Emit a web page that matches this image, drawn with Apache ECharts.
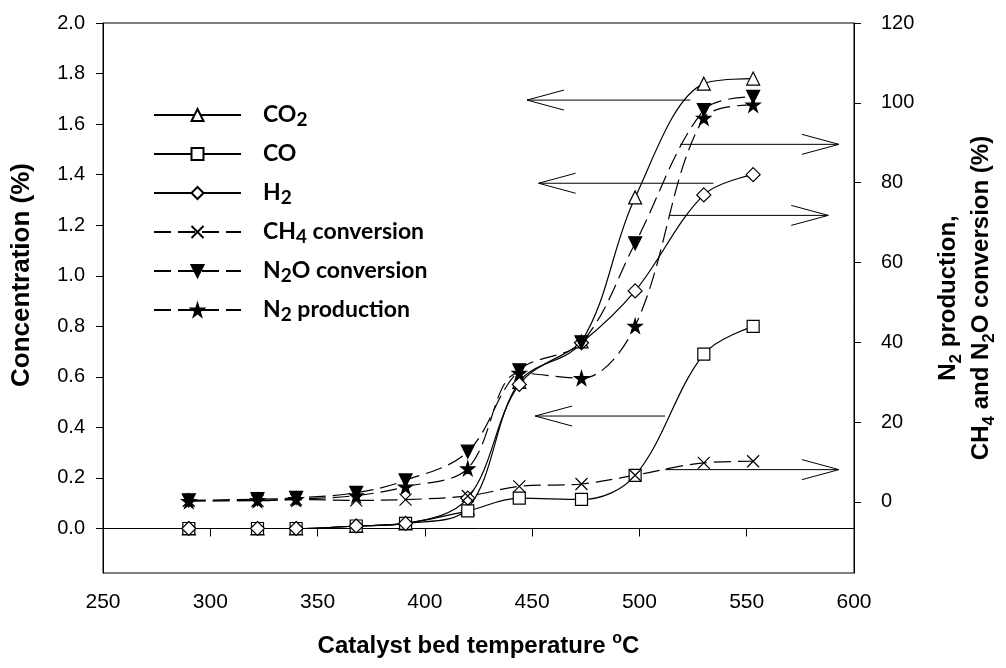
<!DOCTYPE html>
<html><head><meta charset="utf-8">
<script src="https://cdn.jsdelivr.net/npm/echarts@6/dist/echarts.min.js"></script>
<style>html,body{margin:0;padding:0;background:#fff}#c{width:1006px;height:668px}</style>
</head><body><div id="c"></div>
<script>
// ---- data ----
const temps    = [290, 322, 340, 368, 391, 420, 444, 473, 498, 530, 553];
const co2      = [0, 0, 0, 0.01, 0.02, 0.08, 0.58, 0.74, 1.31, 1.76, 1.78];
const co       = [0, 0, 0, 0.01, 0.02, 0.07, 0.12, 0.115, 0.21, 0.69, 0.80];
const h2       = [0, 0, 0, 0.01, 0.02, 0.12, 0.57, 0.735, 0.94, 1.32, 1.40];
const ch4Conv  = [0.3, 0.3, 0.6, 0.4, 0.6, 1.5, 3.9, 4.5, 6.7, 9.8, 10.2];
const n2oConv  = [0.4, 0.7, 1.0, 2.3, 5.4, 12.6, 33.0, 40.0, 64.8, 98.2, 101.5];
const n2Prod   = [0.2, 0.4, 0.7, 1.6, 3.8, 8.4, 32.3, 31.0, 44.1, 96.2, 99.5];
const leftTicks  = [0, 0.2, 0.4, 0.6, 0.8, 1.0, 1.2, 1.4, 1.6, 1.8, 2.0];
const rightTicks = [0, 20, 40, 60, 80, 100, 120];
// annotation arrows (data units): axis 0 = left, 1 = right; from tail to tip
const arrows = [
  {axis: 0, y: 1.695, from: 523.7, to: 447.6},
  {axis: 1, y: 89.6,  from: 519,   to: 593},
  {axis: 0, y: 1.366, from: 534.5, to: 453},
  {axis: 1, y: 71.8,  from: 513.7, to: 588},
  {axis: 0, y: 0.445, from: 512,   to: 451.4},
  {axis: 1, y: 8.1,   from: 512,   to: 593}
];

const STAR = 'path://M50,0 L61,35 L98,35 L68,57 L79,91 L50,70 L21,91 L32,57 L2,35 L39,35 Z';
const TDOWN = 'path://M0,0 L10,0 L5,9 Z';
const XMARK = 'path://M0,0 L10,10 M10,0 L0,10';

function mk(name, vals, yIdx, symbol, dashed, fill, size) {
  return {
    name: name, type: 'line', yAxisIndex: yIdx,
    data: temps.map((t, i) => [t, vals[i]]),
    smooth: 0.35,
    symbol: symbol, symbolSize: size || 13,
    showAllSymbol: true,
    lineStyle: {color: '#000', width: 1.2, type: dashed ? [17, 7] : 'solid'},
    itemStyle: {color: fill, borderColor: '#000', borderWidth: 1.2},
    emphasis: {disabled: true},
    z: 3
  };
}

const legendText = {
  'CO2': 'CO{s|2}', 'CO': 'CO', 'H2': 'H{s|2}',
  'CH4 conversion': 'CH{s|4} conversion',
  'N2O conversion': 'N{s|2}O conversion',
  'N2 production': 'N{s|2} production'
};

const chart = echarts.init(document.getElementById('c'), null, {renderer: 'canvas'});
const FONT = "'Liberation Sans', Arial, sans-serif";
chart.setOption({
  animation: false,
  backgroundColor: '#fff',
  grid: {left: 103, right: 145, top: 23, bottom: 95, show: true, borderColor: '#000', borderWidth: 1},
  legend: {
    orient: 'vertical', left: 153, top: 101, padding: 0,
    itemWidth: 87, itemHeight: 15, itemGap: 11,
    selectedMode: false,
    data: ['CO2', 'CO', 'H2', 'CH4 conversion', 'N2O conversion', 'N2 production'],
    formatter: n => legendText[n],
    textStyle: {
      fontFamily: 'Lato', fontWeight: 'bold', fontSize: 23, color: '#000',
      lineHeight: 28, padding: [0, 0, 0, 17],
      rich: {s: {fontFamily: 'Lato', fontWeight: 'bold', fontSize: 19, lineHeight: 18, verticalAlign: 'bottom', color: '#000'}}
    }
  },
  xAxis: {
    type: 'value', min: 250, max: 600, interval: 50,
    axisLine: {lineStyle: {color: '#000', width: 1}},
    axisTick: {inside: false, length: 8, lineStyle: {color: '#000'}},
    axisLabel: {color: '#000', fontFamily: FONT, fontSize: 21, margin: 19},
    splitLine: {show: false},
    name: 'Catalyst bed temperature {sup|o}C',
    nameLocation: 'middle', nameGap: 58,
    nameTextStyle: {
      fontFamily: FONT, fontWeight: 'bold', fontSize: 24, color: '#000', lineHeight: 30,
      rich: {sup: {fontFamily: FONT, fontWeight: 'bold', fontSize: 16, verticalAlign: 'top', lineHeight: 14, color: '#000'}}
    }
  },
  yAxis: [{
    type: 'value', min: -0.176, max: 2.0,
    axisLine: {show: true, lineStyle: {color: '#000', width: 1}},
    axisTick: {show: true, inside: false, length: 7, lineStyle: {color: '#000'}, customValues: leftTicks},
    axisLabel: {color: '#000', fontFamily: FONT, fontSize: 20, margin: 18, customValues: leftTicks,
      formatter: v => v.toFixed(1)},
    splitLine: {show: false},
    name: 'Concentration (%)', nameLocation: 'middle', nameRotate: 90, nameGap: 68,
    nameTextStyle: {fontFamily: FONT, fontWeight: 'bold', fontSize: 26, color: '#000', padding: [0, 0, 0, 46]}
  }, {
    type: 'value', min: -17.8, max: 120, position: 'right',
    axisLine: {show: true, lineStyle: {color: '#000', width: 1}},
    axisTick: {show: true, inside: false, length: 7, lineStyle: {color: '#000'}, customValues: rightTicks},
    axisLabel: {color: '#000', fontFamily: FONT, fontSize: 20, margin: 27, customValues: rightTicks,
      formatter: v => String(Math.round(v))},
    splitLine: {show: false},
    name: 'N{s|2} production,\nCH{s|4} and N{s|2}O conversion (%)',
    nameLocation: 'middle', nameRotate: 90, nameGap: 78,
    nameTextStyle: {
      fontFamily: FONT, fontWeight: 'bold', fontSize: 24, color: '#000', lineHeight: 33, align: 'center',
      rich: {s: {fontFamily: FONT, fontWeight: 'bold', fontSize: 17, lineHeight: 17, verticalAlign: 'bottom', color: '#000'}}
    }
  }],
  series: [
    mk('CO2', co2, 0, 'triangle', false, '#fff', 13),
    mk('CO', co, 0, 'rect', false, '#fff', 12),
    mk('H2', h2, 0, 'diamond', false, '#fff', 14),
    mk('CH4 conversion', ch4Conv, 1, XMARK, true, 'transparent', 12),
    mk('N2O conversion', n2oConv, 1, TDOWN, true, '#000', 13),
    mk('N2 production', n2Prod, 1, STAR, true, '#000', 14)
  ]
});

// arrows converted from data units through the axes
const els = [];
arrows.forEach(a => {
  const finder = {xAxisIndex: 0, yAxisIndex: a.axis};
  const p0 = chart.convertToPixel(finder, [a.from, a.y]);
  const p1 = chart.convertToPixel(finder, [a.to, a.y]);
  const dir = p1[0] < p0[0] ? 1 : -1;
  const st = {stroke: '#000', lineWidth: 1, fill: null};
  els.push({type: 'polyline', shape: {points: [p0, p1]}, style: st, silent: true, z: 2});
  els.push({type: 'polyline', shape: {points: [[p1[0] + dir * 37, p1[1] - 10], p1, [p1[0] + dir * 37, p1[1] + 10]]}, style: st, silent: true, z: 2});
});
chart.setOption({graphic: {elements: els}});
</script>
</body></html>
